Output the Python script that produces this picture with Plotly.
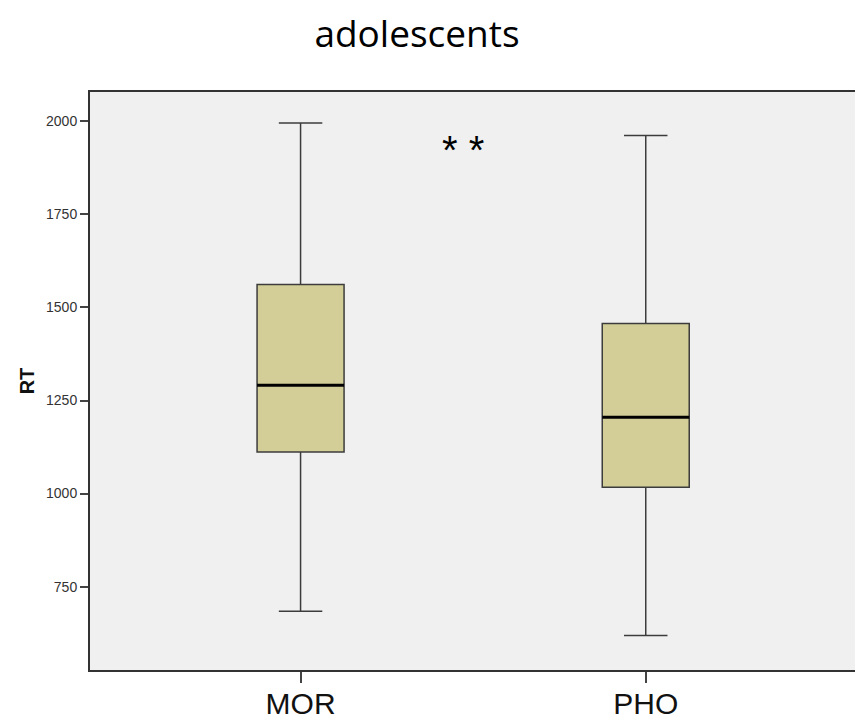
import plotly.graph_objects as go

categories = ["MOR", "PHO"]
lower_whisker = [684, 619]
q1_values = [1112, 1017]
median_values = [1291, 1205]
q3_values = [1562, 1457]
upper_whisker = [1996, 1962]
y_ticks = [750, 1000, 1250, 1500, 1750, 2000]
significance_label = "* *"

positions = list(range(len(categories)))
box_width = 0.252

fig = go.Figure()
fig.add_trace(go.Box(
    x=positions,
    q1=q1_values,
    median=median_values,
    q3=q3_values,
    lowerfence=lower_whisker,
    upperfence=upper_whisker,
    width=box_width,
    whiskerwidth=0.5,
    fillcolor="#d3ce97",
    line=dict(color="#3c3c3c", width=1.5),
    boxpoints=False,
    hoverinfo="skip",
    showlegend=False,
))

shapes = []
for p, m in zip(positions, median_values):
    shapes.append(dict(type="line", xref="x", yref="y",
                       x0=p - box_width / 2, x1=p + box_width / 2, y0=m, y1=m,
                       line=dict(color="#000000", width=3)))

W, H = 855, 712
fig.update_layout(
    width=W, height=H,
    margin=dict(l=82, r=6, t=84, b=50),
    paper_bgcolor="white",
    plot_bgcolor="#f0f0f0",
    shapes=shapes,
    title=dict(text="adolescents", x=(417 - 8) / W, xanchor="center",
               y=1 - 26 / H, yanchor="middle",
               font=dict(family="Open Sans", size=37, color="#000000")),
    annotations=[dict(text=significance_label, x=0.47, y=1922, xref="x", yref="y",
                      showarrow=False, font=dict(family="Liberation Sans", size=40, color="#000000"))],
)
fig.update_xaxes(
    range=[-0.61, 1.612],
    tickvals=positions, ticktext=categories,
    ticks="outside", ticklen=11, tickcolor="#444444", tickwidth=1.5,
    ticklabelstandoff=-5,
    tickfont=dict(family="Liberation Sans", size=30, color="#111111"),
    showgrid=False, zeroline=False, automargin=False,
    showline=True, mirror=True, linecolor="#333333", linewidth=2,
)
fig.update_yaxes(
    range=[526, 2079],
    tickvals=y_ticks,
    ticks="outside", ticklen=8, tickcolor="#444444", tickwidth=1.5,
    tickfont=dict(family="Liberation Sans", size=14, color="#333333"),
    title=dict(text="<b>RT</b>", font=dict(family="Liberation Sans", size=20, color="#111111"), standoff=6),
    showgrid=False, zeroline=False, automargin=False,
    showline=True, mirror=True, linecolor="#333333", linewidth=2,
)

fig.write_html("out.html")
